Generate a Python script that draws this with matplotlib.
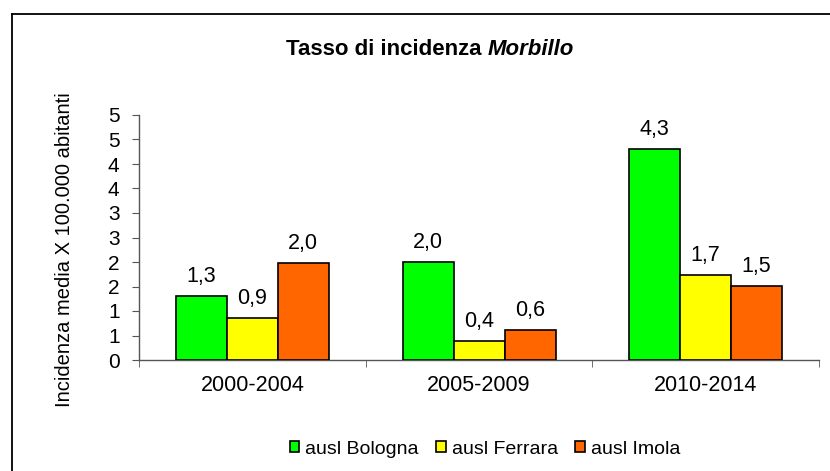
import matplotlib
matplotlib.use("Agg")
import matplotlib.pyplot as plt
from matplotlib.lines import Line2D
import numpy as np

plt.rcParams['font.family'] = ['Liberation Sans', 'DejaVu Sans']

categories = ["2000-2004", "2005-2009", "2010-2014"]
series_names = ["ausl Bologna", "ausl Ferrara", "ausl Imola"]
bologna = [1.3, 2.0, 4.3]
ferrara = [0.9, 0.4, 1.7]
imola = [2.0, 0.6, 1.5]
# visual bar heights as drawn in the reference (slightly different from labels)
bologna_h = [1.3, 2.0, 4.3]
ferrara_h = [0.86, 0.39, 1.73]
imola_h = [1.98, 0.61, 1.51]
ytick_values = [0, 0.5, 1, 1.5, 2, 2.5, 3, 3.5, 4, 4.5, 5]
ytick_labels = ["0", "1", "1", "2", "2", "3", "3", "4", "4", "5", "5"]
colors = ["#00FF00", "#FFFF00", "#FF6600"]

W, H = 830, 471
fig = plt.figure(figsize=(W / 100, H / 100), dpi=100)
fig.patch.set_facecolor("white")

ax = fig.add_axes([139 / W, 1 - 360 / H, (819 - 139) / W, (360 - 115) / H])

x = np.arange(len(categories))
bw = 0.225
heights = [bologna_h, ferrara_h, imola_h]
labels = [bologna, ferrara, imola]
for i, (hs, ls, c, name) in enumerate(zip(heights, labels, colors, series_names)):
    bars = ax.bar(x + (i - 1) * bw, hs, width=bw, color=c, edgecolor="black",
                  linewidth=1.2, label=name, zorder=3)
    for b, v in zip(bars, ls):
        ax.annotate(f"{v:.1f}".replace(".", ","),
                    (b.get_x() + b.get_width() / 2, b.get_height()),
                    xytext=(0, 10), textcoords="offset points",
                    ha="center", va="baseline", fontsize=15.5)

ax.set_xlim(-0.5, 2.5)
ax.set_ylim(0, 5)
ax.set_yticks(ytick_values)
ax.set_yticklabels(ytick_labels, fontsize=15)
ax.set_xticks(x)
ax.set_xticklabels(categories, fontsize=15.5)
ax.set_xticks([-0.5, 0.5, 1.5, 2.5], minor=True)
ax.tick_params(axis="x", which="major", length=0, pad=11)
ax.tick_params(axis="x", which="minor", length=5, direction="out", color="#555555")
ax.tick_params(axis="y", length=5, direction="out", color="#555555", pad=9)

for s in ["top", "right"]:
    ax.spines[s].set_visible(False)
for s in ["left", "bottom"]:
    ax.spines[s].set_color("#555555")
    ax.spines[s].set_linewidth(1.0)

fig.text(64.5 / W, 1 - 250 / H, "Incidenza media X 100.000 abitanti",
         rotation=90, ha="center", va="center", fontsize=14.5)

# Title: bold + bold italic part, centered
ty = 1 - 55 / H
t1 = fig.text(0, ty, "Tasso di incidenza", fontsize=16, fontweight="bold", va="baseline")
t2 = fig.text(0, ty, "Morbillo", fontsize=16, fontweight="bold", fontstyle="italic", va="baseline")
r = fig.canvas.get_renderer()
w1 = t1.get_window_extent(r).width
w2 = t2.get_window_extent(r).width
gap = 0.278 * 16 * 100 / 72
total = w1 + gap + w2
x0 = 430 - total / 2
t1.set_x(x0 / W)
t2.set_x((x0 + w1 + gap) / W)

leg = fig.legend(loc="center", bbox_to_anchor=(485 / W, 1 - 449 / H), ncol=3,
                 frameon=False, fontsize=14, handlelength=0.5, handleheight=0.5,
                 handletextpad=0.3, columnspacing=0.9, borderaxespad=0)

# outer chart frame
fig.add_artist(Line2D([12 / W, 12 / W], [0, 1 - 14 / H], color="black", lw=1.3,
                      transform=fig.transFigure))
fig.add_artist(Line2D([12 / W, 1], [1 - 14 / H, 1 - 14 / H], color="black", lw=1.3,
                      transform=fig.transFigure))

fig.savefig("out.png", dpi=100)
